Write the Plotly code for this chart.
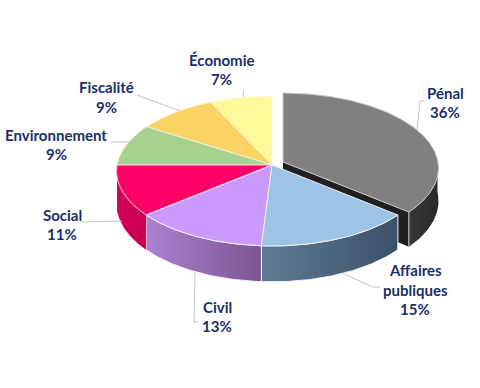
import numpy as np
import plotly.graph_objects as go

categories = ["Pénal", "Affaires publiques", "Civil", "Social", "Environnement", "Fiscalité", "Économie"]
shares = [36, 15, 13, 11, 9, 9, 7]
label_lines = [["Pénal", "36%"], ["Affaires", "publiques", "15%"], ["Civil", "13%"], ["Social", "11%"],
               ["Environnement", "9%"], ["Fiscalité", "9%"], ["Économie", "7%"]]
top_colors = ["#808080", "#9DC3E6", "#CC99FF", "#FF0066", "#A9D18E", "#FCD265", "#FFF99A"]
wall_colors = [("#363636", "#2A2A2A"), ("#5F7B94", "#3B5266"), ("#AC82D2", "#7A5590"),
               ("#D6005A", "#C8004F"), None, None, None]
edge_colors = ["#C8C8C8", "#F2F2F2", "#F8EEFF", "#FFD0E0", "#EAF2E0", "#FFF4D0", "#FFFBD8"]

# page layout (pixels in the 480x388 picture)
CX, CY = 272, 165
RX, RY, PERSP = 155, 74.5, 0.08
DEPTH = 33
EXPLODE = (11, -3)
label_pos = [(445, 102.5), (415, 289.5), (217, 316.5), (62, 224.5), (56, 144.5), (106, 97), (221, 69.5)]
leaders = [[(417, 130), (420, 101), (424, 101)], [(342, 273), (373, 287), (380, 287)],
           [(195, 272), (194, 322), (198, 322)], [(82, 222), (122, 221)],
           [(111, 142), (130, 142)], [(137, 95), (180, 111)], [(243.5, 90), (243.5, 97)]]
LINE_H = 19.5


def proj(theta, ox=0, oy=0, drop=0):
    t = np.radians(theta)
    X, Y = np.sin(t), np.cos(t)
    s = 1 / (1 + PERSP * Y)
    return CX + ox + RX * X * s, CY + oy - RY * Y * s + drop * s


def arc(a, b, ox=0, oy=0, drop=0):
    th = np.linspace(a, b, max(2, int(abs(b - a) * 1.5)))
    return proj(th, ox, oy, drop)


fig = go.Figure()


def poly(x, y, fill=None, grad=None, edge=None, w=1.0):
    x, y = list(x) + [x[0]], list(y) + [y[0]]
    kw = dict(x=x, y=y, mode="lines", fill="toself", hoverinfo="skip", showlegend=False,
              line=dict(color=edge or "rgba(0,0,0,0)", width=w))
    if grad:
        kw["fillgradient"] = dict(type="horizontal", start=min(x), stop=max(x),
                                  colorscale=[[0, grad[0]], [1, grad[1]]])
    else:
        kw["fillcolor"] = fill
    fig.add_trace(go.Scatter(**kw))


def wall(a, b, grad, ox=0, oy=0, edge=None):
    tx, ty = arc(a, b, ox, oy)
    bx, by = arc(b, a, ox, oy, DEPTH)
    poly(np.r_[tx, bx], np.r_[ty, by], grad=grad, edge=edge)


edges = np.r_[0, np.cumsum(shares)] * 3.6

# Pénal is pulled out of the pie: its walls and face go first
ox, oy = EXPLODE
end = edges[1]
wall(88, end, wall_colors[0], ox, oy, edge=None)
ex, ey = proj(end, ox, oy)
poly([CX + ox, ex, ex, CX + ox], [CY + oy, ey, ey + DEPTH * 1.05, CY + oy + DEPTH],
     fill="#202020", edge=None)
fig.add_trace(go.Scatter(x=[ex, ex], y=[ey, ey + DEPTH * 1.05], mode="lines", hoverinfo="skip",
                         showlegend=False, line=dict(color="#B8B8B8", width=1.2)))
tx, ty = arc(0, end, ox, oy)
poly(np.r_[CX + ox, tx], np.r_[CY + oy, ty], fill=top_colors[0], edge=edge_colors[0])

# remaining front walls
for i in (1, 2, 3):
    a, b = edges[i], min(edges[i + 1], 272)
    wall(a, b, wall_colors[i], edge="#F4F0F8" if i < 3 else None)

# remaining top faces
for i in range(6, 0, -1):
    tx, ty = arc(edges[i], edges[i + 1])
    poly(np.r_[CX, tx], np.r_[CY, ty], fill=top_colors[i], edge=edge_colors[i])

# leader lines
for pts in leaders:
    fig.add_trace(go.Scatter(x=[p[0] for p in pts], y=[p[1] for p in pts], mode="lines",
                             hoverinfo="skip", showlegend=False,
                             line=dict(color="#C4C4C4", width=1)))

# labels
for lines, (lx, ly) in zip(label_lines, label_pos):
    n = len(lines)
    for k, s in enumerate(lines):
        fig.add_annotation(x=lx, y=ly + (k - (n - 1) / 2) * LINE_H, text=s, showarrow=False,
                           xanchor="center", yanchor="middle",
                           font=dict(family="Lato", size=15, color="#1A2F6A", weight="bold"))

fig.update_layout(width=480, height=388, margin=dict(l=0, r=0, t=0, b=0),
                  paper_bgcolor="white", plot_bgcolor="white", showlegend=False,
                  xaxis=dict(range=[0, 480], visible=False, fixedrange=True),
                  yaxis=dict(range=[388, 0], visible=False, fixedrange=True))
fig.write_html("out.html", config={"displayModeBar": False},
               post_script="document.body.style.margin='0';document.documentElement.style.overflow='hidden';")
